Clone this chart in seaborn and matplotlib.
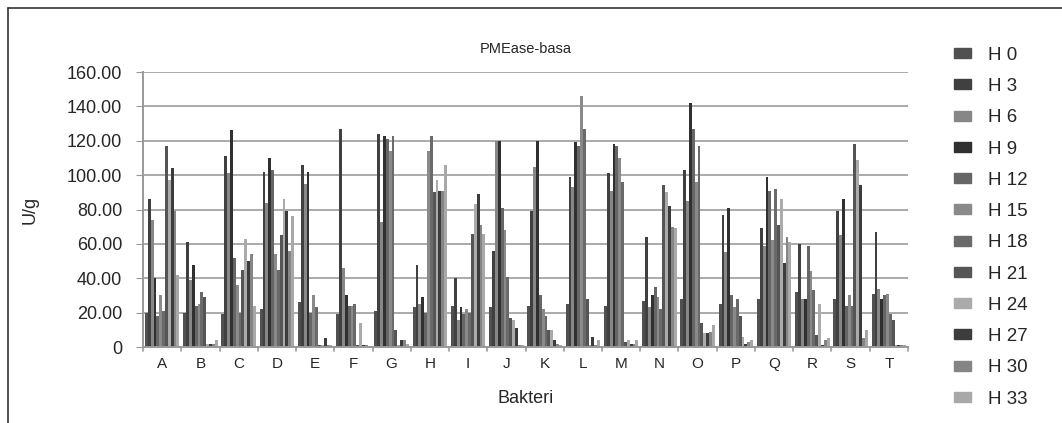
import seaborn as sns
import matplotlib.pyplot as plt
import matplotlib.patches as mpatches
from matplotlib.lines import Line2D
import pandas as pd

# bacteria groups and sampling hours
bakteri = list("ABCDEFGHIJKLMNOPQRST")
jam = ["H 0", "H 3", "H 6", "H 9", "H 12", "H 15", "H 18", "H 21", "H 24", "H 27", "H 30", "H 33"]

# values per bacterium (U/g), one per hour
A = [20, 86, 74, 40, 18, 30, 21, 117, 97, 104, 79, 42]
B = [20, 61, 39, 48, 24, 25, 32, 29, 2, 2, 2, 4]
C = [19, 111, 101, 126, 52, 36, 20, 45, 63, 50, 54, 24]
D = [22, 102, 84, 110, 103, 54, 45, 65, 86, 79, 56, 76]
E = [26, 106, 95, 102, 20, 30, 23, 1, 1, 5, 1, 1]
F = [19, 127, 46, 30, 24, 24, 25, 1, 14, 1, 1, 0.5]
G = [21, 124, 73, 123, 121, 114, 123, 10, 1, 4, 4, 2]
H = [23, 48, 25, 29, 20, 114, 123, 90, 97, 91, 91, 106]
I = [24, 40, 16, 23, 19, 22, 20, 66, 83, 89, 71, 66]
J = [23, 56, 120, 120, 81, 68, 41, 17, 16, 11, 1, 1]
K = [24, 79, 105, 120, 30, 22, 18, 10, 10, 4, 2, 1]
L = [25, 99, 93, 119, 117, 146, 127, 28, 1, 6, 1, 4]
M = [24, 101, 91, 118, 117, 110, 96, 3, 4, 2, 2, 4]
N = [27, 64, 23, 30, 35, 29, 22, 94, 90, 82, 70, 69]
O = [28, 103, 85, 142, 127, 96, 117, 14, 8, 8, 9, 13]
P = [25, 77, 55, 81, 30, 23, 28, 18, 6, 2, 3, 4]
Q = [28, 69, 59, 99, 91, 62, 92, 71, 86, 49, 64, 61]
R = [32, 60, 28, 28, 59, 44, 33, 7, 25, 1, 4, 5]
S = [28, 79, 65, 86, 24, 30, 24, 118, 109, 94, 5, 10]
T = [31, 67, 34, 28, 30, 31, 19, 16, 1, 1, 1, 1]

nilai = [A, B, C, D, E, F, G, H, I, J, K, L, M, N, O, P, Q, R, S, T]

warna = ["#505050", "#404040", "#878787", "#303030", "#666666", "#8a8a8a",
         "#6a6a6a", "#555555", "#ababab", "#3c3c3c", "#858585", "#a8a8a8"]

rows = []
for b, vals in zip(bakteri, nilai):
    for j, v in zip(jam, vals):
        rows.append({"Bakteri": b, "Jam": j, "U/g": v})
df = pd.DataFrame(rows)

sns.set_style("white")
plt.rcParams['font.family'] = ['Liberation Sans', 'DejaVu Sans']

fig = plt.figure(figsize=(10.62, 4.23), dpi=100)
ax = fig.add_axes([143 / 1062, 1 - 347 / 423, 765 / 1062, 275 / 423])

sns.barplot(data=df, x="Bakteri", y="U/g", hue="Jam", hue_order=jam,
            palette=warna, width=0.9, saturation=1, linewidth=0, ax=ax)

ax.set_ylim(0, 160)
ax.set_xlim(-0.5, 19.5)
ax.set_yticks(range(0, 161, 20))
ax.set_yticklabels(["0"] + ["%.2f" % v for v in range(20, 161, 20)], fontsize=13)
ax.tick_params(axis="x", length=0, labelsize=11, pad=7)
ax.tick_params(axis="y", length=5, color="#999999", pad=10, left=True)
ax.yaxis.grid(True, color="#aaaaaa", linewidth=1.4)
ax.set_axisbelow(True)
for s in ["top", "right"]:
    ax.spines[s].set_visible(False)
ax.spines["left"].set_color("#999999")
ax.spines["bottom"].set_color("#999999")
ax.spines["left"].set_linewidth(1.4)
ax.spines["bottom"].set_linewidth(1.4)

# small tick marks between groups
for k in range(21):
    ax.plot([k - 0.5, k - 0.5], [0, -2.5], color="#999999", lw=1.2, clip_on=False)

ax.set_xlabel("Bakteri", fontsize=13, labelpad=14)
ax.set_ylabel("U/g", fontsize=13, labelpad=20)
ax.set_title("PMEase-basa", fontsize=10.5, pad=14)

ax.get_legend().remove()
handles = [mpatches.Patch(color=c, label=l) for c, l in zip(warna, jam)]
fig.legend(handles=handles, loc="upper left", bbox_to_anchor=(937 / 1062, 1 - 30 / 423),
           frameon=False, fontsize=13.5, handlelength=0.9, handleheight=0.45,
           labelspacing=0.76, handletextpad=0.9)

# outer frame
fig.add_artist(Line2D([8 / 1062, 8 / 1062], [0, 1 - 8 / 423], color="#333333", lw=1.2))
fig.add_artist(Line2D([8 / 1062, 1], [1 - 8 / 423, 1 - 8 / 423], color="#333333", lw=1.2))

fig.savefig("out.png", dpi=100)
